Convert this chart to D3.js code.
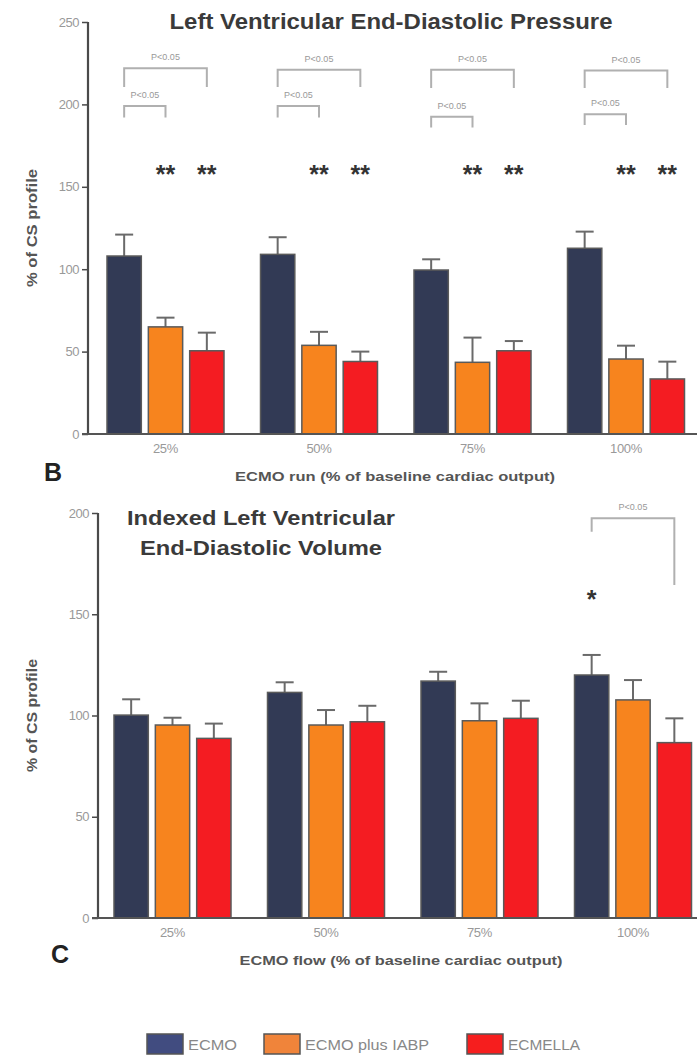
<!DOCTYPE html>
<html><head><meta charset="utf-8">
<script src="https://cdn.jsdelivr.net/npm/d3@7"></script>
<style>
body{margin:0;background:#fff;}
svg{display:block;font-family:"Liberation Sans",Arial,sans-serif;}
</style></head>
<body><svg id="c" width="698" height="1057"></svg>
<script>
const categories = ["25%", "50%", "75%", "100%"];
const seriesNames = ["ECMO", "ECMO plus IABP", "ECMELLA"];
const seriesColors = ["#323a55", "#f7841e", "#f41c22"];
const legendColors = ["#414c80", "#f0843a", "#f61e1e"];

// Panel B: LVEDP (% of CS profile)
const lvedpEcmo = [108, 109, 99.5, 112.7];
const lvedpIabp = [65, 53.8, 43.5, 45.5];
const lvedpEcmella = [50.5, 44, 50.5, 33.4];
const lvedpEcmoSem = [13, 10.4, 6.5, 10.1];
const lvedpIabpSem = [5.6, 8.2, 15, 8.1];
const lvedpEcmellaSem = [11, 6, 5.9, 10.5];
const lvedpTicks = [0, 50, 100, 150, 200, 250];
const lvedpStarLevel = 159;
const lvedpBigBrackets = [[222, 210.5], [221, 210.5], [221, 210], [220.5, 210]];
const lvedpSmallBrackets = [[199, 192], [199, 192], [192.5, 186], [194, 187.5]];

// Panel C: indexed LVEDV (% of CS profile)
const lvedvEcmo = [100.2, 111.4, 117, 120];
const lvedvIabp = [95.3, 95.3, 97.4, 107.7];
const lvedvEcmella = [88.7, 96.9, 98.6, 86.6];
const lvedvEcmoSem = [7.8, 5, 4.6, 9.9];
const lvedvIabpSem = [3.6, 7.4, 8.6, 9.8];
const lvedvEcmellaSem = [7.3, 7.9, 8.7, 12];
const lvedvTicks = [0, 50, 100, 150, 200];
const lvedvStarLevel = 158.7;

const svg = d3.select("#c");

function panel(o) {
  const g = svg.append("g");
  const y = d3.scaleLinear().domain([0, o.max]).range([o.bottom, o.top]);
  const x0 = d3.scaleBand().domain(categories).range([o.xStart, o.xStart + 614]);
  const x1 = d3.scaleBand().domain(seriesNames).range([19, 136]).paddingInner(0.17);
  const bx = (ci, si) => x0(categories[ci]) + x1(seriesNames[si]);
  const cx = (ci, si) => bx(ci, si) + x1.bandwidth() / 2;
  o.cx = cx; o.y = y;

  o.means.forEach((arr, si) => {
    g.append("g").selectAll("g").data(arr).join("g").each(function (d, ci) {
      const e = o.sems[si][ci];
      const c = cx(ci, si);
      const s = d3.select(this);
      s.append("line").attr("x1", c).attr("x2", c).attr("y1", y(d)).attr("y2", y(d + e))
        .attr("stroke", "#6a6a6a").attr("stroke-width", 2);
      s.append("line").attr("x1", c - 9).attr("x2", c + 9).attr("y1", y(d + e)).attr("y2", y(d + e))
        .attr("stroke", "#6a6a6a").attr("stroke-width", 2);
    });
    g.append("g").selectAll("rect").data(arr).join("rect")
      .attr("x", (d, ci) => bx(ci, si))
      .attr("y", d => y(d))
      .attr("width", x1.bandwidth())
      .attr("height", d => y(0) - y(d))
      .attr("fill", seriesColors[si])
      .attr("stroke", "#5a5a5a").attr("stroke-width", 1.5);
  });

  const ya = d3.axisLeft(y).tickValues(o.ticks).tickSize(6).tickPadding(3);
  const yg = g.append("g").attr("transform", `translate(${o.left},0)`).call(ya);
  yg.select(".domain").attr("stroke", "#4a4a4a").attr("stroke-width", 2.2)
    .attr("d", `M0,${o.bottom}V${o.top}`);
  yg.selectAll(".tick line").attr("stroke", "#4a4a4a").attr("stroke-width", 1.5);
  yg.selectAll(".tick text").attr("fill", "#999").style("font-size", "13px")
    .style("letter-spacing", "-0.5px");

  const xa = d3.axisBottom(x0).tickSize(0).tickPadding(10);
  const xg = g.append("g").attr("transform", `translate(0,${o.bottom})`).call(xa);
  xg.select(".domain").attr("stroke", "#555").attr("stroke-width", 2.2)
    .attr("d", `M${o.left - 6},0H697`);
  xg.selectAll(".tick text")
    .attr("transform", `translate(${x1(seriesNames[1]) + x1.bandwidth() / 2 - x0.bandwidth() / 2},0)`)
    .attr("fill", "#999").style("font-size", "13px").style("letter-spacing", "-0.3px");

  g.append("text").attr("transform", `translate(${o.ylabX},${(o.top + o.bottom) / 2}) rotate(-90)`)
    .attr("text-anchor", "middle").attr("font-weight", "bold").attr("font-size", 14).attr("fill", "#555")
    .attr("textLength", o.ylabLen).attr("lengthAdjust", "spacingAndGlyphs")
    .text("% of CS profile");
  g.append("text").attr("x", o.xtitleX).attr("y", o.bottom + 47).attr("text-anchor", "middle")
    .attr("font-weight", "bold").attr("font-size", 13).attr("fill", "#555")
    .attr("textLength", o.xtitleLen).attr("lengthAdjust", "spacingAndGlyphs").text(o.xtitle);
  g.append("text").attr("x", o.letterX).attr("y", o.bottom + o.letterDy).attr("font-weight", "bold")
    .attr("font-size", 25).attr("fill", "#222").text(o.letter);
  return g;
}

function bracket(g, x1, x2, yTop, yL, yR, label) {
  g.append("path").attr("d", `M${x1},${yL}V${yTop}H${x2}V${yR}`)
    .attr("fill", "none").attr("stroke", "#b0b0b0").attr("stroke-width", 2);
  g.append("text").attr("x", (x1 + x2) / 2).attr("y", yTop - 8).attr("text-anchor", "middle")
    .attr("font-size", 9).attr("fill", "#999").text(label);
}

const oB = {
  top: 22, bottom: 434, left: 88, xStart: 88, max: 250, ticks: lvedpTicks,
  means: [lvedpEcmo, lvedpIabp, lvedpEcmella],
  sems: [lvedpEcmoSem, lvedpIabpSem, lvedpEcmellaSem],
  ylabX: 37, ylabLen: 118, xtitle: "ECMO run (% of baseline cardiac output)", xtitleX: 395, xtitleLen: 320,
  letter: "B", letterX: 44, letterDy: 47
};
const gB = panel(oB);
gB.append("text").attr("x", 391).attr("y", 29).attr("text-anchor", "middle")
  .attr("font-weight", "bold").attr("font-size", 22).attr("fill", "#3a3a3a")
  .attr("textLength", 443).attr("lengthAdjust", "spacingAndGlyphs")
  .text("Left Ventricular End-Diastolic Pressure");
categories.forEach((c, ci) => {
  const b = lvedpBigBrackets[ci], s = lvedpSmallBrackets[ci];
  bracket(gB, oB.cx(ci, 0), oB.cx(ci, 2), oB.y(b[0]), oB.y(b[1]), oB.y(b[1]), "P<0.05");
  bracket(gB, oB.cx(ci, 0), oB.cx(ci, 1), oB.y(s[0]), oB.y(s[1]), oB.y(s[1]), "P<0.05");
  [1, 2].forEach(si => {
    gB.append("text").attr("x", oB.cx(ci, si)).attr("y", oB.y(lvedpStarLevel) + 11)
      .attr("text-anchor", "middle").attr("font-weight", "bold").attr("font-size", 25)
      .attr("fill", "#333").text("**");
  });
});

const oC = {
  top: 513, bottom: 918, left: 98, xStart: 95, max: 200, ticks: lvedvTicks,
  means: [lvedvEcmo, lvedvIabp, lvedvEcmella],
  sems: [lvedvEcmoSem, lvedvIabpSem, lvedvEcmellaSem],
  ylabX: 37, ylabLen: 113, xtitle: "ECMO flow (% of baseline cardiac output)", xtitleX: 401, xtitleLen: 323,
  letter: "C", letterX: 51, letterDy: 45
};
const gC = panel(oC);
gC.append("text").attr("x", 261).attr("y", 525).attr("text-anchor", "middle")
  .attr("font-weight", "bold").attr("font-size", 20).attr("fill", "#3a3a3a")
  .attr("textLength", 268).attr("lengthAdjust", "spacingAndGlyphs")
  .text("Indexed Left Ventricular");
gC.append("text").attr("x", 261).attr("y", 555).attr("text-anchor", "middle")
  .attr("font-weight", "bold").attr("font-size", 20).attr("fill", "#3a3a3a")
  .attr("textLength", 242).attr("lengthAdjust", "spacingAndGlyphs")
  .text("End-Diastolic Volume");
bracket(gC, oC.cx(3, 0), oC.cx(3, 2), oC.y(197.4), oC.y(190.8), oC.y(164.4), "P<0.05");
gC.append("text").attr("x", oC.cx(3, 0)).attr("y", oC.y(lvedvStarLevel) + 11)
  .attr("text-anchor", "middle").attr("font-weight", "bold").attr("font-size", 25)
  .attr("fill", "#333").text("*");

const legendX = [147, 264, 467];
const legendLen = [49, 124, 72];
const lg = svg.append("g");
seriesNames.forEach((n, i) => {
  lg.append("rect").attr("x", legendX[i]).attr("y", 1034).attr("width", 36).attr("height", 20)
    .attr("fill", legendColors[i]).attr("stroke", "#555").attr("stroke-width", 1.5);
  lg.append("text").attr("x", legendX[i] + 41).attr("y", 1050).attr("font-size", 14)
    .attr("textLength", legendLen[i]).attr("lengthAdjust", "spacingAndGlyphs")
    .attr("fill", "#888").text(n);
});
</script></body></html>
